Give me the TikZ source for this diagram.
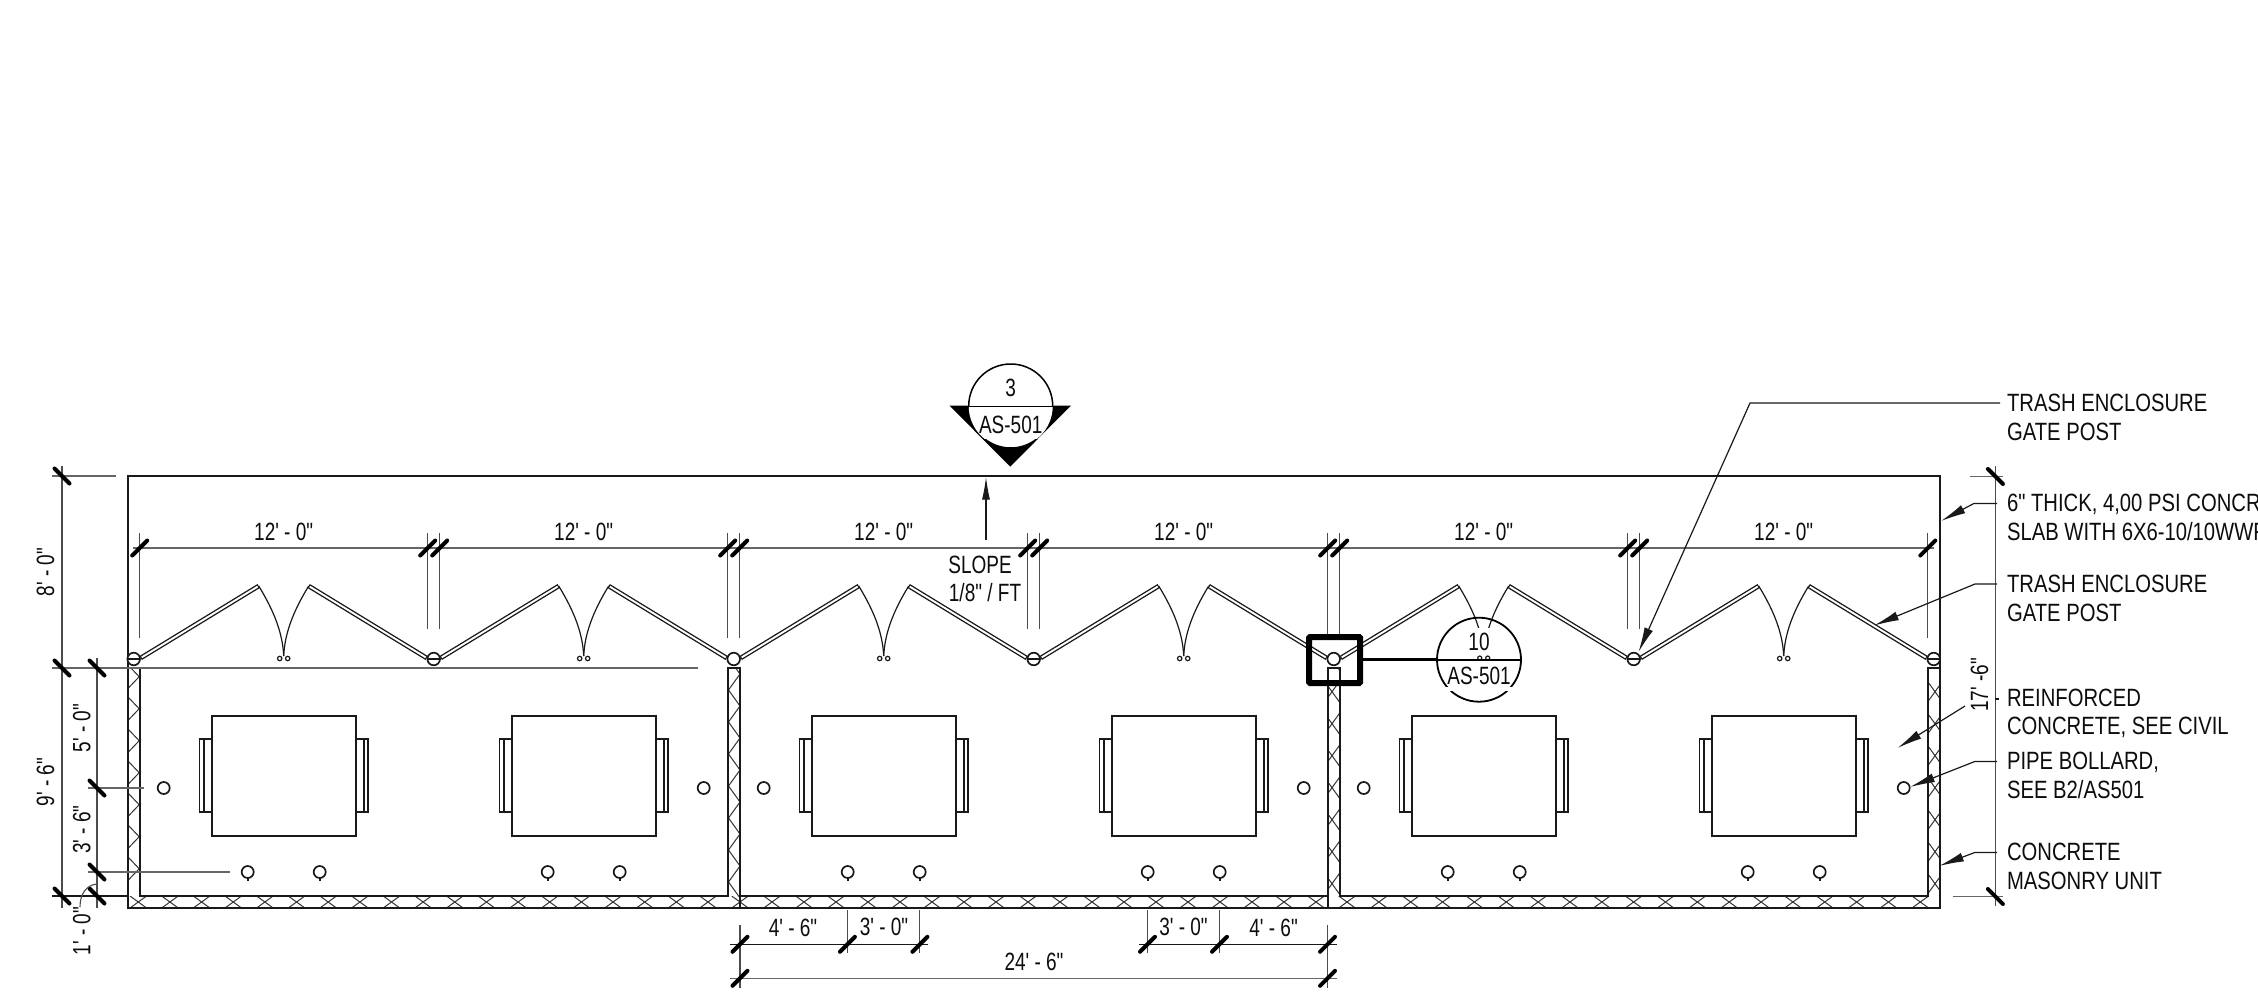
\documentclass[tikz,border=0pt]{standalone}
\usepackage{fontspec}
\newfontfamily\dg[FakeStretch=0.81]{Liberation Sans}
\newfontfamily\dm[FakeStretch=0.76]{Liberation Sans}
\usetikzlibrary{arrows.meta}
\tikzset{
  ln/.style={line width=1.7pt,black!90},
  thin ln/.style={line width=1.2pt,black!90},
  hatch/.style={line width=1pt,black!80},
  dimln/.style={line width=1.6pt,black!60},
  extln/.style={line width=1.1pt,black!70},
  slash/.style={line width=4pt,black,line cap=round},
  leader/.style={line width=1.2pt,black!90,-{Latex[length=25pt,width=9pt]}},
  leaf/.style={line width=4.6pt,black!90},
  leafin/.style={line width=1.9pt,white},
  txt/.style={inner sep=0pt,text height=18pt,text depth=0pt,font=\dm\fontsize{25}{28}\selectfont,text=black!95},
  lab/.style={txt,anchor=west,yshift=1pt,font=\dg\fontsize{25}{28}\selectfont},
}
\newcommand{\fsl}[2]{\draw[slash] ({#1-7.5},{#2+7.5}) -- ({#1+7.5},{#2-7.5});}
\newcommand{\bsl}[2]{\draw[slash] ({#1-7.5},{#2-7.5}) -- ({#1+7.5},{#2+7.5});}
\begin{document}
\begin{tikzpicture}[x=1pt,y=-1pt]
\useasboundingbox[fill=white] (0,0) rectangle (2258,1008);

% ---- hatching
\begin{scope}
\clip (127.7,667.7) rectangle (139.7,896);
\foreach \k in {0,...,6} { \pgfmathsetmacro\yy{676.7+32*\k}
  \draw[hatch] (127.7,{\yy-12}) -- (139.2,\yy) -- (127.7,{\yy+12}); }
\end{scope}
\begin{scope}
\clip (727.7,667.7) rectangle (740,896);
\foreach \k in {-1,...,7} { \pgfmathsetmacro\yy{690+32*\k}
  \draw[hatch] (740,{\yy-16}) -- (728.5,\yy) -- (740,{\yy+16}); }
\end{scope}
\begin{scope}
\clip (1327.7,667.7) rectangle (1340,896);
\foreach \k in {-1,...,6} { \pgfmathsetmacro\yy{691.7+32*\k}
  \draw[hatch] (1320,{\yy-16.6}) -- (1344,{\yy+16.6});
  \draw[hatch] (1320,{\yy+16.6}) -- (1344,{\yy-16.6}); }
\end{scope}
\begin{scope}
\clip (1927.8,667.7) rectangle (1940,896);
\foreach \k in {0,...,6} { \pgfmathsetmacro\yy{691.7+32*\k}
  \draw[hatch] (1923,{\yy-16.6}) -- (1947,{\yy+16.6});
  \draw[hatch] (1923,{\yy+16.6}) -- (1947,{\yy-16.6}); }
\end{scope}
\begin{scope}
\clip (127.7,896) rectangle (1940,908);
\foreach \s/\d in {138.3/31.65,740/32,1347/31.85} { \foreach \k in {0,...,18} {
  \pgfmathsetmacro\xx{\s+\d*\k}
  \draw[hatch] ({\xx-8.3},908) -- ({\xx+8.3},896);
  \draw[hatch] ({\xx-8.3},896) -- ({\xx+8.3},908);} }
\end{scope}

% ---- slab and walls
\draw[ln] (127.7,908) -- (127.7,475.7) -- (1940,475.7) -- (1940,908) -- cycle;
\draw[ln] (139.7,667.7) -- (139.7,896) -- (727.7,896) -- (727.7,667.7) -- (740,667.7) -- (740,908);
\draw[ln] (127.7,667.7) -- (139.7,667.7);
\draw[ln] (740,896) -- (1327.7,896) -- (1327.7,667.7) -- (1340,667.7) -- (1340,896) -- (1927.8,896) -- (1927.8,667.7) -- (1940,667.7);
\draw[ln] (1327.7,896) -- (1327.7,908);

% ---- gates, cabinets, bollards per module
\foreach \m in {283.7,583.7,883.7,1183.7,1483.7,1783.7} {
  \draw[leaf] ({\m-143},658) -- ({\m-25},586);
  \draw[leaf] ({\m+25},586) -- ({\m+143},658);
  \draw[leafin] ({\m-142},657.4) -- ({\m-26},586.6);
  \draw[leafin] ({\m+26},586.6) -- ({\m+142},657.4);
  \draw[thin ln] ({\m-25},586) .. controls ({\m-9},612) and ({\m-1},634) .. (\m,656);
  \draw[thin ln] ({\m+25},586) .. controls ({\m+9},612) and ({\m+1},634) .. (\m,656);
  \draw[ln] ({\m-72},715.7) rectangle ({\m+72},836);
  \draw[ln] ({\m-72},739.3) -- ({\m-84.3},739.3) -- ({\m-84.3},812.3) -- ({\m-72},812.3);
  \draw[ln] ({\m-80},739.3) -- ({\m-80},812.3);
  \draw[ln] ({\m+72},739.3) -- ({\m+84.3},739.3) -- ({\m+84.3},812.3) -- ({\m+72},812.3);
  \draw[ln] ({\m+80},739.3) -- ({\m+80},812.3);
  \draw[ln] ({\m-36},872) circle[radius=6];
  \draw[ln] ({\m-36},878) -- ({\m-36},881);
  \draw[ln] ({\m+36},872) circle[radius=6];
  \draw[ln] ({\m+36},878) -- ({\m+36},881);
}
% bollards beside the walls
\foreach \x in {163.7,703.7,763.7,1303.7,1363.7,1903.7} {
  \draw[ln] (\x,788) circle[radius=6]; }
% posts
\foreach \c in {133.7,433.7,733.7,1033.7,1333.7,1633.7,1933.7} {
  \draw[ln,fill=white] (\c,659) circle[radius=6.3];
}
\foreach \c in {133.7,433.7,1033.7,1633.7,1933.7} {
  \draw[thin ln] ({\c-6},659) -- ({\c+6},659); }

% ---- top chain of dimensions
\draw[dimln] (133,548) -- (1934,548);
\draw[extln] (139.7,533) -- (139.7,638);
\draw[extln] (1927.8,533) -- (1927.8,638);
\foreach \a/\e in {427.7/629,439.7/629,727.7/638,739.7/638,1027.7/629,1039.7/629,1327.7/638,1339.7/638,1627.7/629,1639.7/629} {
  \draw[extln] (\a,533) -- (\a,\e); }
\foreach \a in {139.7,427.7,439.7,727.7,739.7,1027.7,1039.7,1327.7,1339.7,1627.7,1639.7,1927.8} {
  \fsl{\a}{548} }
\node[txt] (d1) at (283.7,531) {12' - 0"};
\node[txt] (d2) at (583.7,531) {12' - 0"};
\node[txt] (d3) at (883.7,531) {12' - 0"};
\node[txt] (d4) at (1183.7,531) {12' - 0"};
\node[txt] (d5) at (1483.7,531) {12' - 0"};
\node[txt] (d6) at (1783.7,531) {12' - 0"};

% ---- left dimensions
\draw[dimln] (52,476) -- (116,476);
\draw[dimln] (52,668) -- (698,668);
\draw[ln] (52,896) -- (127.7,896);
\draw[dimln] (88,788) -- (144,788);
\draw[dimln] (88,872) -- (230,872);
\draw[extln] (62,466) -- (62,908);
\draw[extln] (97,658) -- (97,908);
\bsl{62}{476}\bsl{62}{668}\bsl{62}{896}
\bsl{97}{668}\bsl{97}{788}\bsl{97}{872}\bsl{97}{896}
\draw[extln] (80,907) .. controls (80,893) and (87,885) .. (97,884);
\node[txt,rotate=90] (l1) at (45,572) {8' - 0"};
\node[txt,rotate=90] (l2) at (45,782) {9' - 6"};
\node[txt,rotate=90] (l3) at (81.4,728) {5' - 0"};
\node[txt,rotate=90] (l4) at (81.4,829.5) {3' - 6"};
\node[txt,rotate=90] (l5) at (81.4,931) {1' - 0"};

% ---- bottom dimensions
\draw[thin ln] (730,944.3) -- (927.7,944.3);
\draw[thin ln] (1139,944.3) -- (1336.6,944.3);
\draw[dimln] (730,978.3) -- (1336.6,978.3);
\draw[extln] (740,925) -- (740,988);
\draw[extln] (1327.5,925) -- (1327.5,988);
\foreach \a in {847.4,919.9,1147.5,1219.5} { \draw[extln] (\a,910) -- (\a,953); }
\foreach \a in {740,847.4,919.9,1147.5,1219.5,1327.5} { \fsl{\a}{944.3} }
\fsl{740}{978.3}\fsl{1327.5}{978.3}
\node[txt] (b1) at (793,927) {4' - 6"};
\node[txt] (b2) at (884,926) {3' - 0"};
\node[txt] (b3) at (1183.5,926) {3' - 0"};
\node[txt] (b4) at (1273.6,927) {4' - 6"};
\node[txt] (b5) at (1034,961.7) {24' - 6"};

% ---- right dimension and leaders
\draw[extln] (1995.4,466) -- (1995.4,906);
\draw[dimln] (1970,476.5) -- (2003,476.5);
\draw[dimln] (1953,896.5) -- (2003,896.5);
\bsl{1995.4}{476.5}\bsl{1995.4}{896.5}
\draw[thin ln] (1995.4,699) -- (1999,699);
\node[txt,rotate=90] (r1) at (1979,685) {17' -6"};
\coordinate (t1a) at (2000,403); \coordinate (t1b) at (1750,403); \coordinate (t1c) at (1638.5,652);
\draw[leader] (t1a) -- (t1b) -- (t1c);
\coordinate (t2a) at (1997,503.4); \coordinate (t2b) at (1974,503.4); \coordinate (t2c) at (1941,521);
\draw[leader] (t2a) -- (t2b) -- (t2c);
\coordinate (t3a) at (1997,584); \coordinate (t3b) at (1975,584); \coordinate (t3c) at (1874,625.5);
\draw[leader] (t3a) -- (t3b) -- (t3c);
\coordinate (t4a) at (1965,706); \coordinate (t4c) at (1897.5,748);
\draw[leader] (t4a) -- (t4c);
\coordinate (t5a) at (1997,761.4); \coordinate (t5b) at (1975,761.4); \coordinate (t5c) at (1910,787);
\draw[leader] (t5a) -- (t5b) -- (t5c);
\coordinate (t6a) at (1997,852.4); \coordinate (t6b) at (1975,852.4); \coordinate (t6c) at (1939,866);
\draw[leader] (t6a) -- (t6b) -- (t6c);

\node[lab] (n1) at (2006.8,403) {TRASH ENCLOSURE};
\node[lab] (n2) at (2006.8,432) {GATE POST};
\node[lab] (n3) at (2006.8,503) {6" THICK, 4,00 PSI CONCR};
\node[lab] (n4) at (2006.8,532) {SLAB WITH 6X6-10/10WWF};
\node[lab] (n5) at (2006.8,584) {TRASH ENCLOSURE};
\node[lab] (n6) at (2006.8,613) {GATE POST};
\node[lab] (n7) at (2006.8,698) {REINFORCED};
\node[lab] (n8) at (2006.8,726.5) {CONCRETE, SEE CIVIL};
\node[lab] (n9) at (2006.8,761.5) {PIPE BOLLARD,};
\node[lab] (n10) at (2006.8,790) {SEE B2/AS501};
\node[lab] (n11) at (2006.8,852) {CONCRETE};
\node[lab] (n12) at (2006.8,881) {MASONRY UNIT};

% ---- slope arrow
\coordinate (sa) at (986,540); \coordinate (sb) at (986,476.7);
\draw[leader,-{Latex[length=23pt,width=8pt]}] (sa) -- (sb);
\node[txt] (s1) at (980,564) {SLOPE};
\node[txt] (s2) at (985,592.7) {1/8" / FT};

% ---- section marker
\fill[black] (949.6,405.7) -- (1070.8,405.7) -- (1010.2,466.7) -- cycle;
\fill[white] (1010.7,406) circle[radius=42];
\begin{scope}
\clip (960,355) rectangle (1061,406.3);
\draw[line width=1.5pt,black] (1010.7,406) circle[radius=42];
\end{scope}
\begin{scope}
\clip (960,439) rectangle (1061,455);
\draw[line width=1.5pt,black] (1010.7,406) circle[radius=42];
\end{scope}
\draw[line width=1.5pt,black] (969,406.3) -- (1052.4,406.3);
\node[txt] (m1) at (1010.7,387) {3};
\node[txt] (m2) at (1010.7,424) {AS-501};

% ---- detail marker
\fill[white] (1449,628) rectangle (1509,657);
\draw[line width=1.8pt,black] (1479,659.7) circle[radius=42];
\fill[white] (1432,686.5) rectangle (1526,690.8);
\foreach \x in {1479.7,1487.7} { \draw[thin ln] (\x,658) circle[radius=2]; }
\draw[line width=3.2pt,black] (1360,659.7) -- (1437,659.7);
\draw[line width=1.8pt,black] (1437,659.7) -- (1520,659.7);
\draw[line width=6pt,black,rounded corners=1pt] (1309,637) rectangle (1360,683);
\node[txt] (k1) at (1479,641.7) {10};
\node[txt] (k2) at (1479,675.7) {AS-501};

% ---- hinge dots for the other gates
\foreach \m in {283.7,583.7,883.7,1183.7,1783.7} { \foreach \o in {-4,4} {
  \draw[thin ln] ({\m+\o},658.5) circle[radius=2.2]; } }
\end{tikzpicture}
\end{document}
